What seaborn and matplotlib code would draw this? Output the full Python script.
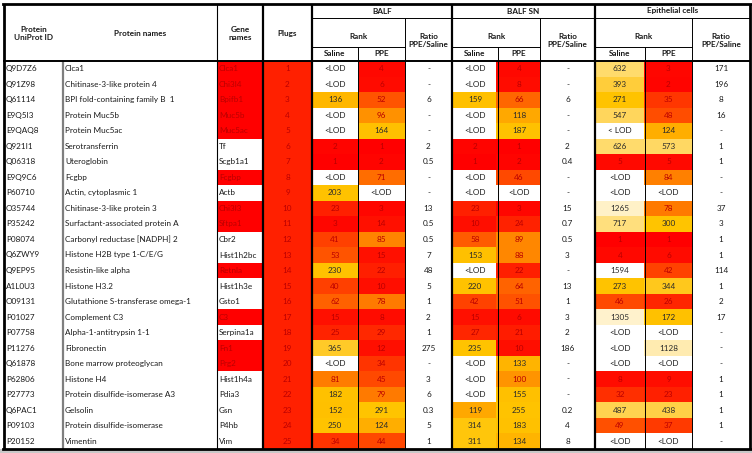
#!/usr/bin/env python3
"""
Tabla de ranking de proteínas (plugs, BALF, BALF SN, células epiteliales)
dibujada como mapa de calor con seaborn.
"""

import numpy as np
import pandas as pd
import matplotlib
matplotlib.use("Agg")
import matplotlib.pyplot as plt
from matplotlib.colors import LinearSegmentedColormap, ListedColormap, LogNorm
import seaborn as sns

# ---------------------------------------------------------------- datos
LOD = None  # por debajo del límite de detección

uniprot_ids = ["Q9D7Z6", "Q91Z98", "Q61114", "E9Q5I3", "E9QAQ8", "Q921I1", "Q06318",
               "E9Q9C6", "P60710", "O35744", "P35242", "P08074", "Q6ZWY9", "Q9EP95",
               "A1L0U3", "O09131", "P01027", "P07758", "P11276", "Q61878", "P62806",
               "P27773", "Q6PAC1", "P09103", "P20152"]

protein_names = ["Clca1", "Chitinase-3-like protein 4", "BPI fold-containing family B  1",
                 "Protein Muc5b", "Protein Muc5ac", "Serotransferrin", "Uteroglobin",
                 "Fcgbp", "Actin, cytoplasmic 1", "Chitinase-3-like protein 3",
                 "Surfactant-associated protein A", "Carbonyl reductase [NADPH] 2",
                 "Histone H2B type 1-C/E/G", "Resistin-like alpha", "Histone H3.2",
                 "Glutathione S-transferase omega-1", "Complement C3",
                 "Alpha-1-antitrypsin 1-1", "Fibronectin", "Bone marrow proteoglycan",
                 "Histone H4", "Protein disulfide-isomerase A3", "Gelsolin",
                 "Protein disulfide-isomerase", "Vimentin"]

gene_names = ["Clca1", "Chi3l4", "Bpifb1", "Muc5b", "Muc5ac", "Tf", "Scgb1a1", "Fcgbp",
              "Actb", "Chi3l3", "Sftpa1", "Cbr2", "Hist1h2bc", "Retnla", "Hist1h3e",
              "Gsto1", "C3", "Serpina1a", "Fn1", "Prg2", "Hist1h4a", "Pdia3", "Gsn",
              "P4hb", "Vim"]

# 1 = gen resaltado en rojo
gene_highlight = [1, 1, 1, 1, 1, 0, 0, 1, 0, 1, 1, 0, 0, 1, 0, 0, 1, 0, 1, 1, 0, 0, 0, 0, 0]

plugs = [1, 2, 3, 4, 5, 6, 7, 8, 9, 10, 11, 12, 13, 14, 15, 16, 17, 18, 19, 20,
         21, 22, 23, 24, 25]

balf_saline = [LOD, LOD, 136, LOD, LOD, 2, 1, LOD, 203, 23, 3, 41, 53, 230, 40, 62, 15,
               25, 365, LOD, 81, 182, 152, 250, 34]
balf_ppe = [4, 6, 52, 96, 164, 1, 2, 71, LOD, 3, 14, 85, 15, 22, 10, 78, 8, 29, 12, 34,
            45, 79, 291, 124, 44]
balf_ratio = ["-", "-", "6", "-", "-", "2", "0.5", "-", "-", "13", "0.5", "0.5", "7", "48",
              "5", "1", "2", "1", "275", "-", "3", "6", "0.3", "5", "1"]

sn_saline = [LOD, LOD, 159, LOD, LOD, 2, 1, LOD, LOD, 23, 10, 58, 153, LOD, 220, 42, 15,
             27, 235, LOD, LOD, LOD, 119, 314, 311]
sn_ppe = [4, 8, 66, 118, 187, 1, 2, 46, LOD, 3, 24, 89, 88, 22, 64, 51, 6, 21, 10, 133,
          100, 155, 255, 183, 134]
sn_ratio = ["-", "-", "6", "-", "-", "2", "0.4", "-", "-", "15", "0.7", "0.5", "3", "-",
            "13", "1", "3", "2", "186", "-", "-", "-", "0.2", "4", "8"]

epi_saline = [632, 393, 271, 547, LOD, 626, 5, LOD, LOD, 1265, 717, 1, 4, 1594, 273, 46,
              1305, LOD, LOD, LOD, 8, 32, 487, 49, LOD]
epi_ppe = [3, 2, 35, 48, 124, 573, 5, 84, LOD, 78, 300, 1, 6, 42, 344, 26, 172, LOD,
           1128, LOD, 9, 23, 438, 37, LOD]
epi_ratio = ["171", "196", "8", "16", "-", "1", "1", "-", "-", "37", "3", "1", "1", "114",
             "1", "2", "17", "-", "-", "-", "1", "1", "1", "1", "-"]

groups = ["BALF", "BALF SN", "Epithelial cells"]

# ---------------------------------------------------------------- maquetación (px)
W, H = 752, 453
X = [4, 63, 217, 263, 312, 358, 405, 452, 498, 540, 595, 645, 692, 750]
Y_TOP, Y_GRP, Y_SUB, Y_HEAD, Y_BOT = 4, 18, 47, 61, 449
ROW_H = (Y_BOT - Y_HEAD) / len(uniprot_ids)

FONT = ["Lato", "DejaVu Sans"]
FS = 5.9
DARK_RED = "#bb0000"

# escala de color del rango (1 = rojo, alto = crema/blanco)
rank_cmap = LinearSegmentedColormap.from_list("rank", [
    (0.000, "#ff0000"),
    (np.log10(15) / np.log10(1600), "#ff1000"),
    (np.log10(30) / np.log10(1600), "#ff2a00"),
    (np.log10(45) / np.log10(1600), "#ff4800"),
    (np.log10(65) / np.log10(1600), "#ff6400"),
    (np.log10(85) / np.log10(1600), "#ff8200"),
    (np.log10(120) / np.log10(1600), "#ffaa00"),
    (np.log10(150) / np.log10(1600), "#ffc000"),
    (np.log10(300) / np.log10(1600), "#ffc400"),
    (np.log10(400) / np.log10(1600), "#ffcd3a"),
    (np.log10(600) / np.log10(1600), "#ffd966"),
    (np.log10(1130) / np.log10(1600), "#ffebb0"),
    (np.log10(1305) / np.log10(1600), "#fff2cc"),
    (1.000, "#ffffff"),
])
rank_norm = LogNorm(vmin=1, vmax=1600)


def to_float(values):
    return [np.nan if v is None else float(v) for v in values]


def heat_axes(fig, x0, x1):
    """Crea unos ejes que ocupan las columnas x0..x1 de la zona de datos."""
    return fig.add_axes([x0 / W, 1 - Y_BOT / H, (x1 - x0) / W, (Y_BOT - Y_HEAD) / H])


def row_y(i):
    return Y_HEAD + ROW_H * (i + 0.5)


def rank_color(v):
    if v is None:
        return "#1a1a1a"
    return DARK_RED if v < 110 else "#2b2b2b"


def txt(ax, x, y, s, ha="center", bold=False, color="#1a1a1a", size=FS):
    ax.text(x, y, s, ha=ha, va="center", fontsize=size, color=color,
            family=FONT, fontweight="bold" if bold else "normal")


fig = plt.figure(figsize=(W / 100, H / 100), dpi=100, facecolor="white")

# fondo blanco de la tabla y sombra gris inferior
bg = fig.add_axes([0, 0, 1, 1])
bg.set_xlim(0, W)
bg.set_ylim(H, 0)
bg.axis("off")
bg.fill_between([0, W], Y_BOT, H, color="#c8c8c8", lw=0)
bg.fill_between([X[0], X[-1]], Y_TOP, Y_BOT, color="white", lw=0)

# columna de genes (rojo / blanco)
gax = heat_axes(fig, X[2], X[3])
sns.heatmap(pd.DataFrame({"gene": gene_highlight}), ax=gax,
            cmap=ListedColormap(["white", "#ff0000"]), vmin=0, vmax=1,
            cbar=False, xticklabels=False, yticklabels=False)

# columna plugs (todas en el mismo rojo)
pax = heat_axes(fig, X[3], X[4])
sns.heatmap(pd.DataFrame({"plugs": plugs}), ax=pax, cmap=ListedColormap(["#ff2000"]),
            cbar=False, xticklabels=False, yticklabels=False)

# bloques de rango: (saline, ppe, x izquierda, x derecha)
blocks = [(balf_saline, balf_ppe, X[4], X[6]),
          (sn_saline, sn_ppe, X[7], X[9]),
          (epi_saline, epi_ppe, X[10], X[12])]
for saline, ppe, x0, x1 in blocks:
    hax = heat_axes(fig, x0, x1)
    df = pd.DataFrame({"Saline": to_float(saline), "PPE": to_float(ppe)})
    sns.heatmap(df, ax=hax, cmap=rank_cmap, norm=rank_norm, cbar=False,
                xticklabels=False, yticklabels=False)

# capa superior: textos y líneas
ax = fig.add_axes([0, 0, 1, 1])
ax.set_xlim(0, W)
ax.set_ylim(H, 0)
ax.axis("off")
ax.patch.set_visible(False)

# encabezados
yh = (Y_TOP + Y_HEAD) / 2 + 1
txt(ax, (X[0] + X[1]) / 2, yh, "Protein\nUniProt ID", bold=True)
txt(ax, (X[1] + X[2]) / 2, yh, "Protein names", bold=True)
txt(ax, (X[2] + X[3]) / 2, yh, "Gene\nnames", bold=True)
txt(ax, (X[3] + X[4]) / 2, yh, "Plugs", bold=True)
for g, gx in enumerate([X[4], X[7], X[10]]):
    gx_end = [X[7], X[10], X[13]][g]
    txt(ax, (gx + gx_end) / 2, (Y_TOP + Y_GRP) / 2, groups[g], bold=True)
    xs, xp, xr, xe = gx, [X[5], X[8], X[11]][g], [X[6], X[9], X[12]][g], gx_end
    txt(ax, (xs + xr) / 2, (Y_GRP + Y_SUB) / 2 + 4, "Rank", bold=True)
    txt(ax, (xs + xp) / 2, (Y_SUB + Y_HEAD) / 2, "Saline", bold=True)
    txt(ax, (xp + xr) / 2, (Y_SUB + Y_HEAD) / 2, "PPE", bold=True)
    txt(ax, (xr + xe) / 2, (Y_GRP + Y_HEAD) / 2 + 1, "Ratio\nPPE/Saline", bold=True)

# filas
rank_cols = [(balf_saline, X[4], X[5]), (balf_ppe, X[5], X[6]),
             (sn_saline, X[7], X[8]), (sn_ppe, X[8], X[9]),
             (epi_saline, X[10], X[11]), (epi_ppe, X[11], X[12])]
ratio_cols = [(balf_ratio, X[6], X[7]), (sn_ratio, X[9], X[10]), (epi_ratio, X[12], X[13])]
for i in range(len(uniprot_ids)):
    y = row_y(i)
    txt(ax, X[0] + 2, y, uniprot_ids[i], ha="left")
    txt(ax, X[1] + 2, y, protein_names[i], ha="left")
    txt(ax, X[2] + 2, y, gene_names[i], ha="left",
        color=DARK_RED if gene_highlight[i] else "#1a1a1a")
    txt(ax, (X[3] + X[4]) / 2, y, str(plugs[i]), color=DARK_RED)
    for col, x0, x1 in rank_cols:
        v = col[i]
        label = "<LOD" if v is None else str(v)
        if v is None and col is epi_saline and i == 4:
            label = "< LOD"
        txt(ax, (x0 + x1) / 2, y, label, color=rank_color(v))
    for col, x0, x1 in ratio_cols:
        txt(ax, (x0 + x1) / 2, y, col[i])

# líneas verticales: (x, y inicio, grosor, color)
vlines = [(X[0], Y_TOP, 2.0, "black"), (X[1], Y_HEAD, 1.6, "#7f7f7f"),
          (X[2], Y_TOP, 0.8, "black"), (X[3], Y_TOP, 1.6, "black"),
          (X[4], Y_TOP, 1.6, "black"), (X[5], Y_SUB, 0.7, "black"),
          (X[6], Y_GRP, 0.7, "black"), (X[7], Y_TOP, 1.6, "black"),
          (X[8], Y_SUB, 0.7, "black"), (X[9], Y_GRP, 0.7, "black"),
          (X[10], Y_TOP, 1.6, "black"), (X[11], Y_SUB, 0.7, "black"),
          (X[12], Y_GRP, 0.7, "black"), (X[13], Y_TOP, 2.0, "black")]
for x, y0, lw, c in vlines:
    ax.plot([x, x], [y0, Y_BOT], color=c, lw=lw, solid_capstyle="butt")

# líneas horizontales
ax.plot([X[0] - 0.7, X[13] + 0.7], [Y_TOP, Y_TOP], color="black", lw=2.0)
ax.plot([X[0] - 0.7, X[13] + 0.7], [Y_BOT, Y_BOT], color="black", lw=2.0)
ax.plot([X[0], X[13]], [Y_HEAD, Y_HEAD], color="black", lw=1.4)
ax.plot([X[4], X[13]], [Y_GRP, Y_GRP], color="black", lw=0.7)
for x0, x1 in [(X[4], X[6]), (X[7], X[9]), (X[10], X[12])]:
    ax.plot([x0, x1], [Y_SUB, Y_SUB], color="black", lw=0.7)

fig.savefig("out.png", dpi=100, facecolor=fig.get_facecolor())
